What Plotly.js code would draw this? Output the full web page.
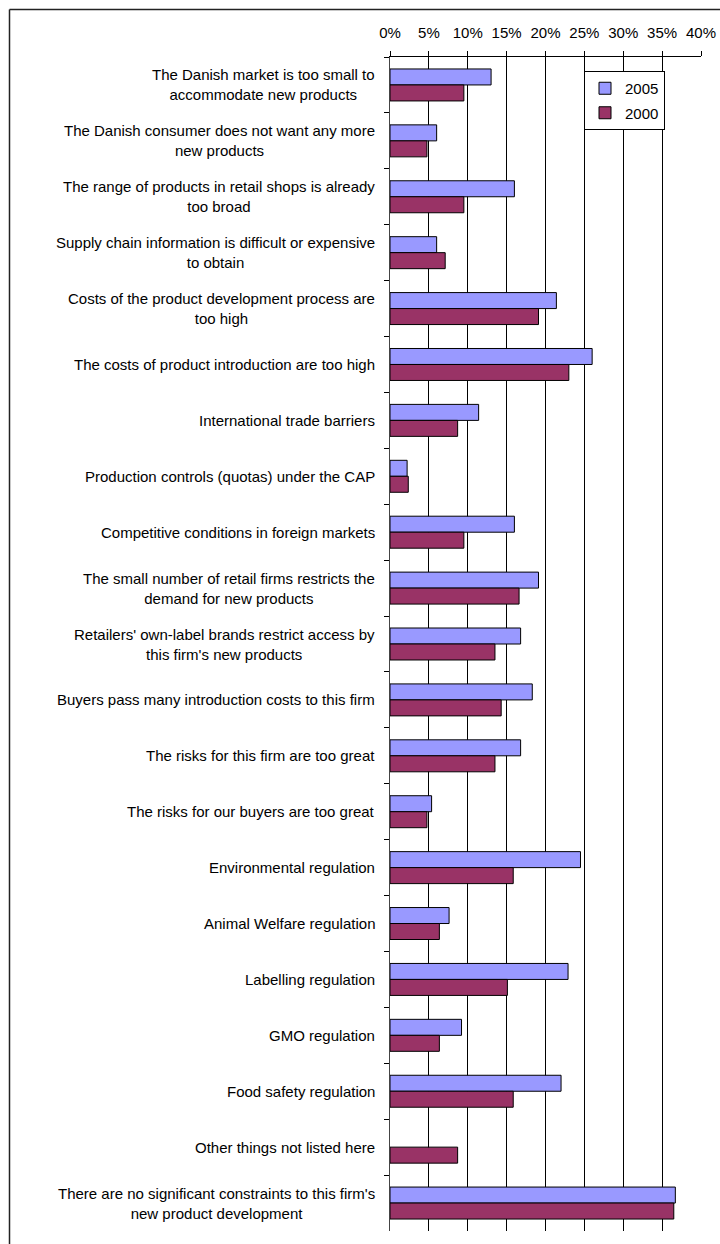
<!DOCTYPE html>
<html>
<head>
<meta charset="utf-8">
<script src="https://cdn.plot.ly/plotly-3.0.1.min.js"></script>
<style>
html,body{margin:0;padding:0;background:#fff;}
#chart{width:720px;height:1244px;}
</style>
</head>
<body>
<div id="chart"></div>
<script>
var categories = [
  "The Danish market is too small to<br>accommodate new products",
  "The Danish consumer does not want any more<br>new products",
  "The range of products in retail shops is already<br>too broad",
  "Supply chain information is difficult or expensive<br>to obtain",
  "Costs of the product development process are<br>too high",
  "The costs of product introduction are too high",
  "International trade barriers",
  "Production controls (quotas) under the CAP",
  "Competitive conditions in foreign markets",
  "The small number of retail firms restricts the<br>demand for new products",
  "Retailers' own-label brands restrict access by<br>this firm's new products",
  "Buyers pass many introduction costs to this firm",
  "The risks for this firm are too great",
  "The risks for our buyers are too great",
  "Environmental regulation",
  "Animal Welfare regulation",
  "Labelling regulation",
  "GMO regulation",
  "Food safety regulation",
  "Other things not listed here",
  "There are no significant constraints to this firm's<br>new product development"
];
var values2005 = [13.0, 6.0, 16.0, 6.0, 21.4, 26.0, 11.4, 2.2, 16.0, 19.1, 16.8, 18.3, 16.8, 5.35, 24.5, 7.6, 22.9, 9.2, 22.0, null, 36.7];
var values2000 = [9.5, 4.75, 9.5, 7.1, 19.1, 23.0, 8.7, 2.35, 9.5, 16.6, 13.5, 14.3, 13.5, 4.75, 15.85, 6.35, 15.1, 6.35, 15.85, 8.7, 36.5];
var seriesNames = ["2005", "2000"];

var W = 720, H = 1244;
var mL = 390, mR = 19, mT = 57, mB = 13;
var plotW = W - mL - mR, plotH = H - mT - mB;
var FONT = 'Arial, "Liberation Sans", sans-serif';

var traces = [
  {type:'bar', orientation:'h', name:seriesNames[0], y:categories, x:values2005,
   legendgroup:'a',
   marker:{color:'#9999FF', line:{color:'#000000', width:1}}, hoverinfo:'x+y'},
  {type:'bar', orientation:'h', name:seriesNames[1], y:categories, x:values2000,
   legendgroup:'b',
   marker:{color:'#993366', line:{color:'#000000', width:1}}, hoverinfo:'x+y'}
];

var annotations = categories.map(function(c){
  return {xref:'paper', yref:'y', x:0, y:c, text:c, showarrow:false,
          xanchor:'right', yanchor:'middle', align:'center', xshift:-13,
          font:{family:FONT, size:15, color:'#000'}};
});

// outer frame (cropped rectangle), expressed in paper units from pixel edges
var frameLeftPx = 9.5, frameTopPx = 9.5;
var shapes = [
  {type:'line', xref:'paper', yref:'paper', layer:'above',
   x0:(frameLeftPx - mL)/plotW, x1:(frameLeftPx - mL)/plotW,
   y0:-1, y1:1 + (mT - frameTopPx)/plotH, line:{color:'#222', width:1.5}},
  {type:'line', xref:'paper', yref:'paper', layer:'above',
   x0:(frameLeftPx - mL)/plotW, x1:2,
   y0:1 + (mT - frameTopPx)/plotH, y1:1 + (mT - frameTopPx)/plotH, line:{color:'#222', width:1.5}}
];

var layout = {
  width:W, height:H,
  margin:{l:mL, r:mR, t:mT, b:mB, pad:0},
  paper_bgcolor:'#ffffff', plot_bgcolor:'#ffffff',
  font:{family:FONT, size:15, color:'#000'},
  barmode:'group', bargap:0.428, bargroupgap:0,
  showlegend:true,
  legend:{x:(584 - mL)/plotW, y:1 - (71 - mT)/plotH, xanchor:'left', yanchor:'top',
          bgcolor:'#ffffff', bordercolor:'#000', borderwidth:1,
          font:{family:FONT, size:15, color:'#000'},
          traceorder:'grouped', tracegroupgap:2, itemwidth:30},
  xaxis:{side:'top', range:[0,40], dtick:5, tick0:0, ticksuffix:'%',
         showgrid:true, gridcolor:'#000', gridwidth:1, zeroline:false,
         showline:true, linecolor:'#000', linewidth:1,
         ticks:'outside', ticklen:5, tickcolor:'#000', tickwidth:1,
         ticklabelstandoff:7,
         tickfont:{family:FONT, size:15, color:'#000'}, fixedrange:true},
  yaxis:{type:'category', autorange:'reversed', showticklabels:false,
         ticks:'outside', tickson:'boundaries', ticklen:5, tickcolor:'#000', tickwidth:1,
         showline:true, linecolor:'#444', linewidth:1, showgrid:false, zeroline:false,
         fixedrange:true},
  annotations:annotations,
  shapes:shapes
};

Plotly.newPlot('chart', traces, layout, {displayModeBar:false, staticPlot:true});
</script>
</body>
</html>
